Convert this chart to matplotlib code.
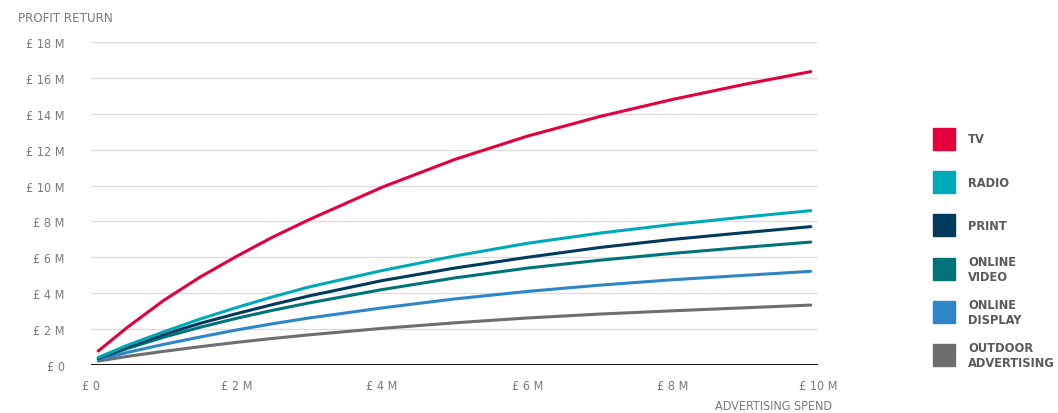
import matplotlib
matplotlib.use('Agg')
import matplotlib.pyplot as plt
from matplotlib.patches import Rectangle

# spend (in £M) and profit return (in £M)
spend = [0.1, 0.5, 1, 1.5, 2, 2.5, 3, 4, 5, 6, 7, 8, 9, 9.9]
tv = [0.78, 2.1, 3.6, 4.9, 6.05, 7.13, 8.1, 9.9, 11.45, 12.75, 13.85, 14.8, 15.65, 16.35]
radio = [0.42, 1.1, 1.85, 2.56, 3.2, 3.8, 4.35, 5.26, 6.07, 6.78, 7.35, 7.83, 8.25, 8.6]
prnt = [0.38, 1.0, 1.7, 2.32, 2.86, 3.37, 3.85, 4.7, 5.4, 6.0, 6.55, 7.0, 7.38, 7.71]
online_video = [0.35, 0.92, 1.55, 2.1, 2.6, 3.05, 3.46, 4.2, 4.85, 5.4, 5.84, 6.22, 6.56, 6.85]
online_display = [0.3, 0.7, 1.15, 1.56, 1.95, 2.3, 2.62, 3.18, 3.68, 4.1, 4.45, 4.75, 5.0, 5.22]
outdoor = [0.22, 0.48, 0.76, 1.02, 1.26, 1.48, 1.68, 2.04, 2.35, 2.62, 2.84, 3.02, 3.19, 3.34]

names = ['TV', 'RADIO', 'PRINT', 'ONLINE\nVIDEO', 'ONLINE\nDISPLAY', 'OUTDOOR\nADVERTISING']
colours = ['#e4003b', '#00a9ba', '#003a5d', '#00737a', '#2e86c8', '#6e6e6e']
series = [tv, radio, prnt, online_video, online_display, outdoor]

y_ticks = [0, 2, 4, 6, 8, 10, 12, 14, 16, 18]
x_ticks = [0, 2, 4, 6, 8, 10]

font = ['DejaVu Sans']
grey = '#7a7a7a'
plt.rcParams['font.stretch'] = 'condensed'

fig = plt.figure(figsize=(10.58, 4.14), dpi=100)
ax = fig.add_axes([91/1058, 48/414, 727/1058, 323/414])

# draw from the bottom series up so TV sits on top
for ys, c in reversed(list(zip(series, colours))):
    ax.plot(spend, ys, color=c, lw=2.2, solid_capstyle='round', solid_joinstyle='round')

ax.set_xlim(0, 10)
ax.set_ylim(0, 18)
for y in y_ticks[1:]:
    ax.axhline(y, color='#dddddd', lw=1, zorder=0)
ax.axhline(0, color='black', lw=1.3, zorder=3)
for s in ax.spines.values():
    s.set_visible(False)
ax.tick_params(length=0)
ax.set_yticks(y_ticks)
ax.set_yticklabels(['£ 0'] + ['£ %d M' % v for v in y_ticks[1:]],
                   family=font, stretch='condensed', fontsize=9, color=grey)
ax.set_xticks(x_ticks)
ax.set_xticklabels(['£ 0'] + ['£ %d M' % v for v in x_ticks[1:]],
                   family=font, stretch='condensed', fontsize=9, color=grey)
ax.tick_params(axis='y', pad=19)
ax.tick_params(axis='x', pad=10)

fig.text(18/1058, 1 - 18/414, 'PROFIT RETURN', family=font, stretch='condensed',
         fontsize=9.5, color=grey, va='center', ha='left')
fig.text(832/1058, 1 - 407/414, 'ADVERTISING SPEND', family=font, stretch='condensed',
         fontsize=9, color=grey, va='center', ha='right')

# legend: coloured squares with labels on the right
for i, (n, c) in enumerate(zip(names, colours)):
    yc = 140 + i * 43.2
    fig.add_artist(Rectangle((933/1058, 1 - (yc + 11)/414), 22/1058, 22/414,
                             transform=fig.transFigure, color=c))
    fig.text(968/1058, 1 - yc/414, n, family=font, stretch='condensed', fontsize=9.2,
             fontweight='bold', color='#5a5a5a', va='center', ha='left', linespacing=1.2)

fig.savefig('out.png', dpi=100)
